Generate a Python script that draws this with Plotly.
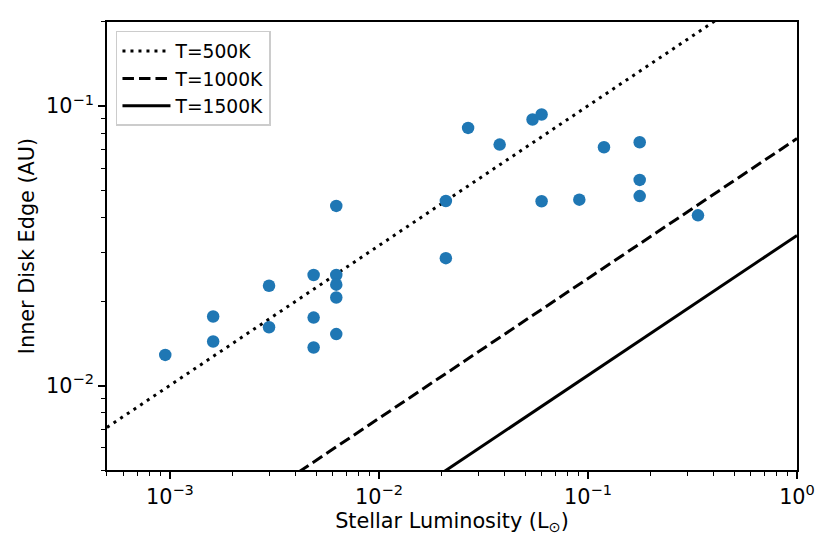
import plotly.graph_objects as go

# stellar luminosity (L_sun) and inner disk edge (AU) for each star
luminosity = [9.5e-4, 1.61e-3, 1.61e-3, 2.98e-3, 2.98e-3,
              4.87e-3, 4.87e-3, 4.87e-3, 6.25e-3, 6.25e-3, 6.25e-3, 6.25e-3, 6.25e-3,
              0.0209, 0.0209, 0.0267, 0.0378, 0.0543, 0.0600, 0.0600,
              0.0909, 0.1193, 0.1768, 0.1768, 0.1768, 0.336]
inner_edge = [0.0129, 0.0177, 0.0144, 0.0228, 0.0162,
              0.0249, 0.01754, 0.01371, 0.0249, 0.0230, 0.0207, 0.01531, 0.0440,
              0.0458, 0.0286, 0.0836, 0.0729, 0.0896, 0.0934, 0.0457,
              0.0463, 0.0713, 0.0743, 0.0545, 0.0477, 0.0407]

# dust sublimation radius lines, read at the two ends of the x axis
line_lum = [5e-4, 1.0]
line_r_500 = [0.0071, 0.317]
line_r_1000 = [0.00171, 0.0766]
line_r_1500 = [0.00077, 0.0345]

x_tick_vals = [1e-3, 1e-2, 1e-1, 1]
x_tick_text = ["10<sup>−3</sup>", "10<sup>−2</sup>", "10<sup>−1</sup>", "10<sup>0</sup>"]
y_tick_vals = [1e-2, 1e-1]
y_tick_text = ["10<sup>−2</sup>", "10<sup>−1</sup>"]

# minor ticks at 2..9 of every decade
x_minor = [m * 10 ** e for e in range(-4, 0) for m in range(2, 10)]
y_minor = [m * 10 ** e for e in range(-3, 0) for m in range(2, 10)]

font = "DejaVu Sans"

fig = go.Figure()
for name, r, dash in [("T=500K", line_r_500, "3px,5px"),
                      ("T=1000K", line_r_1000, "11.5px,5px"),
                      ("T=1500K", line_r_1500, "solid")]:
    fig.add_trace(go.Scatter(x=line_lum, y=r, mode="lines", name=name,
                             line=dict(color="black", width=3, dash=dash)))

fig.add_trace(go.Scatter(x=luminosity, y=inner_edge, mode="markers",
                         marker=dict(color="#1f77b4", size=12.5),
                         showlegend=False))

axis_common = dict(
    type="log", showline=True, linecolor="black", linewidth=1.7, mirror=True,
    ticks="outside", ticklen=7, tickwidth=1.7, tickcolor="black",
    showgrid=False, zeroline=False, automargin=False,
    tickfont=dict(family=font, size=20.8, color="black"),
)

fig.update_xaxes(range=[-3.301, 0], tickvals=x_tick_vals, ticktext=x_tick_text,
                 minor=dict(tickvals=x_minor, ticks="outside", ticklen=4, tickwidth=1.2,
                            tickcolor="black", showgrid=False),
                 title=dict(text="Stellar Luminosity (L<sub>⊙</sub>)",
                            font=dict(family=font, size=20.8, color="black"), standoff=4),
                 **axis_common)
fig.update_yaxes(range=[-2.301, -0.699], tickvals=y_tick_vals, ticktext=y_tick_text,
                 minor=dict(tickvals=y_minor, ticks="outside", ticklen=4, tickwidth=1.2,
                            tickcolor="black", showgrid=False),
                 title=dict(text="Inner Disk Edge (AU)",
                            font=dict(family=font, size=20.8, color="black"), standoff=6),
                 **axis_common)

# the page adds an 8px body margin, so the figure is 8px smaller than the window
fig.update_layout(
    width=822, height=545,
    margin=dict(l=99, r=33, t=14, b=83),
    plot_bgcolor="white", paper_bgcolor="white",
    font=dict(family=font, color="black"),
    legend=dict(x=0.013, y=0.98, xanchor="left", yanchor="top",
                bgcolor="rgba(255,255,255,0.8)", bordercolor="#cccccc", borderwidth=1.5,
                font=dict(family=font, size=18.7), tracegroupgap=0, itemwidth=48),
)

fig.write_html("out.html")
